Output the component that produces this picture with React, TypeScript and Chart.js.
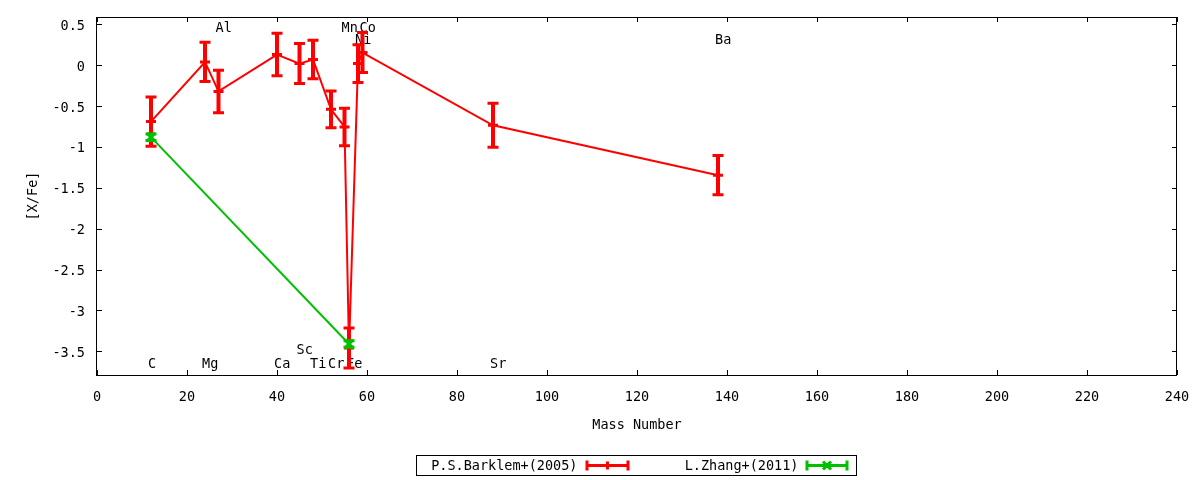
import React, { useEffect, useRef } from "react";
import { Chart, registerables } from "chart.js";

Chart.register(...registerables);

const FONT_FAMILY = '"DejaVu Sans Mono", "Liberation Mono", monospace';
const FONT_SIZE = 13.5;
const RED = "#ff0000";
const GREEN = "#00c000";

// P.S.Barklem+(2005)
const barklemMass = [12, 24, 27, 40, 45, 48, 52, 55, 56, 58, 59, 88, 138];
const barklemValue = [-0.69, 0.04, -0.32, 0.13, 0.02, 0.07, -0.54, -0.755, -3.46, 0.02, 0.155, -0.735, -1.345];
const barklemError = [0.3, 0.24, 0.26, 0.26, 0.245, 0.235, 0.225, 0.23, 0.245, 0.23, 0.245, 0.27, 0.24];

// L.Zhang+(2011)
const zhangMass = [12, 56];
const zhangValue = [-0.88, -3.41];
const zhangError = [0.04, 0.04];

// element labels
const elementNames = ["C", "Mg", "Al", "Ca", "Sc", "Ti", "Cr", "Mn", "Fe", "Co", "Ni", "Sr", "Ba"];
const elementMass = [12, 24, 27, 40, 45, 48, 52, 55, 56, 59, 58, 88, 138];
const elementLabelY = [-3.64, -3.64, 0.47, -3.64, -3.47, -3.64, -3.64, 0.47, -3.64, 0.47, 0.33, -3.64, 0.33];

const seriesNames = ["P.S.Barklem+(2005)", "L.Zhang+(2011)"];

const xTickValues = [0, 20, 40, 60, 80, 100, 120, 140, 160, 180, 200, 220, 240];
const yTickValues = [0.5, 0, -0.5, -1, -1.5, -2, -2.5, -3, -3.5];
const xMin = 0;
const xMax = 240;
const yMin = -3.79;
const yMax = 0.59;

const font = { family: FONT_FAMILY, size: FONT_SIZE };

function drawErrorBars(chart: any, masses: number[], values: number[], errors: number[], color: string) {
  const ctx = chart.ctx;
  const xs = chart.scales.x;
  const ys = chart.scales.y;
  ctx.save();
  ctx.strokeStyle = color;
  ctx.lineCap = "butt";
  for (let i = 0; i < masses.length; i++) {
    const px = xs.getPixelForValue(masses[i]);
    const pt = ys.getPixelForValue(values[i] + errors[i]);
    const pb = ys.getPixelForValue(values[i] - errors[i]);
    ctx.lineWidth = 4;
    ctx.beginPath();
    ctx.moveTo(px, pt);
    ctx.lineTo(px, pb);
    ctx.stroke();
    ctx.lineWidth = 3;
    ctx.beginPath();
    ctx.moveTo(px - 5.5, pt);
    ctx.lineTo(px + 5.5, pt);
    ctx.moveTo(px - 5.5, pb);
    ctx.lineTo(px + 5.5, pb);
    ctx.stroke();
  }
  ctx.restore();
}

const framePlugin = {
  id: "gnuplotFrame",
  beforeDatasetsDraw(chart: any) {
    const ctx = chart.ctx;
    const { left, right, top, bottom } = chart.chartArea;
    const xs = chart.scales.x;
    const ys = chart.scales.y;
    const t = 5;
    ctx.save();
    ctx.strokeStyle = "#000";
    ctx.lineWidth = 1;
    ctx.beginPath();
    for (const v of xTickValues) {
      const px = Math.round(xs.getPixelForValue(v)) + 0.5;
      ctx.moveTo(px, bottom);
      ctx.lineTo(px, bottom - t);
      ctx.moveTo(px, top);
      ctx.lineTo(px, top + t);
    }
    for (const v of yTickValues) {
      const py = Math.round(ys.getPixelForValue(v)) + 0.5;
      ctx.moveTo(left, py);
      ctx.lineTo(left + t, py);
      ctx.moveTo(right, py);
      ctx.lineTo(right - t, py);
    }
    ctx.stroke();
    ctx.strokeRect(Math.round(left) - 0.5, Math.round(top) + 0.5, Math.round(right - left), Math.round(bottom - top));
    ctx.restore();

    // element labels
    ctx.save();
    ctx.fillStyle = "#000";
    ctx.font = `${FONT_SIZE}px ${FONT_FAMILY}`;
    ctx.textAlign = "left";
    ctx.textBaseline = "middle";
    for (let i = 0; i < elementNames.length; i++) {
      ctx.fillText(elementNames[i], xs.getPixelForValue(elementMass[i]) - 3, ys.getPixelForValue(elementLabelY[i]) + 2);
    }
    ctx.restore();
  },
  afterDatasetDraw(chart: any, args: any) {
    if (args.index === 0) drawErrorBars(chart, barklemMass, barklemValue, barklemError, RED);
    if (args.index === 1) drawErrorBars(chart, zhangMass, zhangValue, zhangError, GREEN);
  },
  afterDraw(chart: any) {
    const ctx = chart.ctx;
    const { left, right } = chart.chartArea;
    const cx = (left + right) / 2;
    const boxW = 440;
    const boxH = 20;
    const bx = Math.round(cx - boxW / 2) - 0.5;
    const by = 455.5;
    const cy = by + boxH / 2;
    ctx.save();
    ctx.strokeStyle = "#000";
    ctx.lineWidth = 1;
    ctx.strokeRect(bx, by, boxW, boxH);
    ctx.font = `${FONT_SIZE}px ${FONT_FAMILY}`;
    ctx.fillStyle = "#000";
    ctx.textAlign = "right";
    ctx.textBaseline = "middle";
    const entries = [
      { name: seriesNames[0], color: RED, textRight: bx + 161, sx0: bx + 169, sx1: bx + 213, marker: "plus" },
      { name: seriesNames[1], color: GREEN, textRight: bx + 382, sx0: bx + 389, sx1: bx + 432, marker: "x" },
    ];
    for (const e of entries) {
      ctx.fillStyle = "#000";
      ctx.fillText(e.name, e.textRight, cy + 1);
      ctx.strokeStyle = e.color;
      ctx.lineWidth = 3;
      ctx.beginPath();
      ctx.moveTo(e.sx0, cy);
      ctx.lineTo(e.sx1, cy);
      ctx.moveTo(e.sx0 + 1.5, cy - 5);
      ctx.lineTo(e.sx0 + 1.5, cy + 5);
      ctx.moveTo(e.sx1 - 1.5, cy - 5);
      ctx.lineTo(e.sx1 - 1.5, cy + 5);
      const mx = (e.sx0 + e.sx1) / 2;
      if (e.marker === "plus") {
        ctx.moveTo(mx, cy - 4);
        ctx.lineTo(mx, cy + 4);
      } else {
        ctx.moveTo(mx - 4, cy - 4);
        ctx.lineTo(mx + 4, cy + 4);
        ctx.moveTo(mx + 4, cy - 4);
        ctx.lineTo(mx - 4, cy + 4);
      }
      ctx.stroke();
    }
    ctx.restore();
  },
};

export default function App() {
  const canvasRef = useRef<HTMLCanvasElement | null>(null);

  useEffect(() => {
    const canvas = canvasRef.current;
    if (!canvas) return;
    const chart = new Chart(canvas, {
      type: "line",
      data: {
        datasets: [
          {
            label: seriesNames[0],
            data: barklemMass.map((m, i) => ({ x: m, y: barklemValue[i] })),
            borderColor: RED,
            backgroundColor: RED,
            borderWidth: 2,
            tension: 0,
            pointStyle: "cross",
            pointRadius: 5,
            pointBorderWidth: 3,
            pointBorderColor: RED,
            order: 2,
          },
          {
            label: seriesNames[1],
            data: zhangMass.map((m, i) => ({ x: m, y: zhangValue[i] })),
            borderColor: GREEN,
            backgroundColor: GREEN,
            borderWidth: 2,
            tension: 0,
            pointStyle: "crossRot",
            pointRadius: 6,
            pointBorderWidth: 3,
            pointBorderColor: GREEN,
            order: 1,
          },
        ],
      },
      options: {
        animation: false,
        responsive: false,
        devicePixelRatio: 1,
        layout: { padding: { top: 17, right: 23, left: 0, bottom: 0 } },
        plugins: {
          legend: { display: false },
          tooltip: { enabled: false },
        },
        scales: {
          x: {
            type: "linear",
            position: "bottom",
            min: xMin,
            max: xMax,
            grid: { display: false, drawTicks: false },
            border: { display: false },
            afterBuildTicks: (scale: any) => {
              scale.ticks = xTickValues.map((v) => ({ value: v }));
            },
            afterFit: (scale: any) => {
              scale.height = 105;
              scale.paddingLeft = 0;
              scale.paddingRight = 0;
            },
            ticks: {
              color: "#000",
              font,
              padding: 14,
              maxRotation: 0,
              autoSkip: false,
              callback: (v: any) => String(v),
            },
            title: {
              display: true,
              text: "Mass Number",
              color: "#000",
              font,
              padding: { top: 4, bottom: 46 },
            },
          },
          y: {
            type: "linear",
            position: "left",
            min: yMin,
            max: yMax,
            grid: { display: false, drawTicks: false },
            border: { display: false },
            afterBuildTicks: (scale: any) => {
              scale.ticks = yTickValues.map((v) => ({ value: v }));
            },
            afterFit: (scale: any) => {
              scale.width = 97;
              scale.paddingTop = 0;
              scale.paddingBottom = 0;
            },
            ticks: {
              color: "#000",
              font,
              padding: 12,
              labelOffset: 2,
              autoSkip: false,
              callback: (v: any) => String(v),
            },
            title: {
              display: true,
              text: "[X/Fe]",
              color: "#000",
              font,
              padding: { top: 25, bottom: 4 },
            },
          },
        },
      },
      plugins: [framePlugin],
    });
    return () => chart.destroy();
  }, []);

  return (
    <div style={{ position: "absolute", left: 0, top: 0, width: 1200, height: 480, background: "#fff" }}>
      <canvas ref={canvasRef} width={1200} height={480} style={{ display: "block" }} />
    </div>
  );
}
